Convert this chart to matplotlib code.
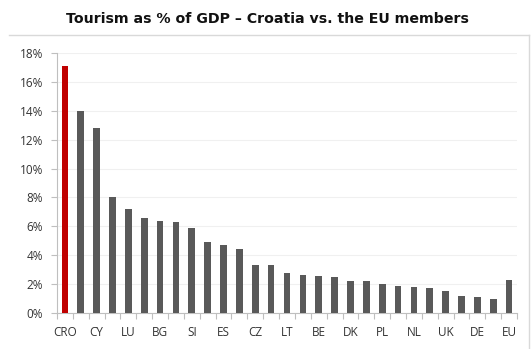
import numpy as np
import matplotlib.pyplot as plt
from matplotlib.ticker import PercentFormatter
from matplotlib.lines import Line2D

# tourism share of GDP (every other bar is labelled)
labels = ['CRO', '', 'CY', '', 'LU', '', 'BG', '', 'SI', '', 'ES', '', 'CZ', '',
          'LT', '', 'BE', '', 'DK', '', 'PL', '', 'NL', '', 'UK', '', 'DE', '', 'EU']
values = [17.1, 14.0, 12.8, 8.0, 7.2, 6.6, 6.4, 6.3, 5.9, 4.9, 4.7, 4.4, 3.3, 3.3,
          2.75, 2.65, 2.55, 2.5, 2.2, 2.2, 2.0, 1.9, 1.8, 1.7, 1.55, 1.2, 1.1, 1.0, 2.3]
yticks = [0, 2, 4, 6, 8, 10, 12, 14, 16, 18]

colors = ['#C00000'] + ['#595959'] * (len(values) - 1)

fig = plt.figure(figsize=(5.32, 3.49), dpi=100)
ax = fig.add_axes([57 / 532, 1 - 313 / 349, 460 / 532, 260 / 349])

x = np.arange(len(values))
ax.bar(x, values, width=0.42, color=colors, zorder=3)

ax.set_xlim(-0.5, len(values) - 0.5)
ax.set_ylim(0, 18)
ax.set_yticks(yticks)
ax.yaxis.set_major_formatter(PercentFormatter(decimals=0))
ax.grid(axis='y', color='#F0F0F0', linewidth=0.8, zorder=0)

# category ticks sit between the bars, labels under the bars
ax.set_xticks(x)
ax.set_xticklabels(labels)
ax.set_xticks(np.arange(-0.5, len(values)), minor=True)
ax.tick_params(axis='x', which='major', length=0, pad=9, labelsize=8.5, colors='#333333')
ax.tick_params(axis='x', which='minor', length=4, color='#BFBFBF', width=0.8)
ax.tick_params(axis='y', length=4, color='#BFBFBF', width=0.8, labelsize=8.5,
               labelcolor='#333333', pad=6)
for lab in ax.get_xticklabels() + ax.get_yticklabels():
    lab.set_family('Open Sans')

for s in ['top', 'right']:
    ax.spines[s].set_visible(False)
for s in ['left', 'bottom']:
    ax.spines[s].set_color('#BFBFBF')
    ax.spines[s].set_linewidth(0.8)

# chart frame: only top and right edges are in view
fx, fy = 529 / 532, 1 - 35 / 349
fig.add_artist(Line2D([9 / 532, fx], [fy, fy], transform=fig.transFigure,
                      color='#D9D9D9', linewidth=1))
fig.add_artist(Line2D([fx, fx], [fy, 0], transform=fig.transFigure,
                      color='#D9D9D9', linewidth=1))

fig.text(267 / 532, 1 - 19 / 349, 'Tourism as % of GDP \u2013 Croatia vs. the EU members',
         ha='center', va='center', fontsize=10.2, fontweight='bold', color='#111111')

fig.savefig('out.png', dpi=100)
